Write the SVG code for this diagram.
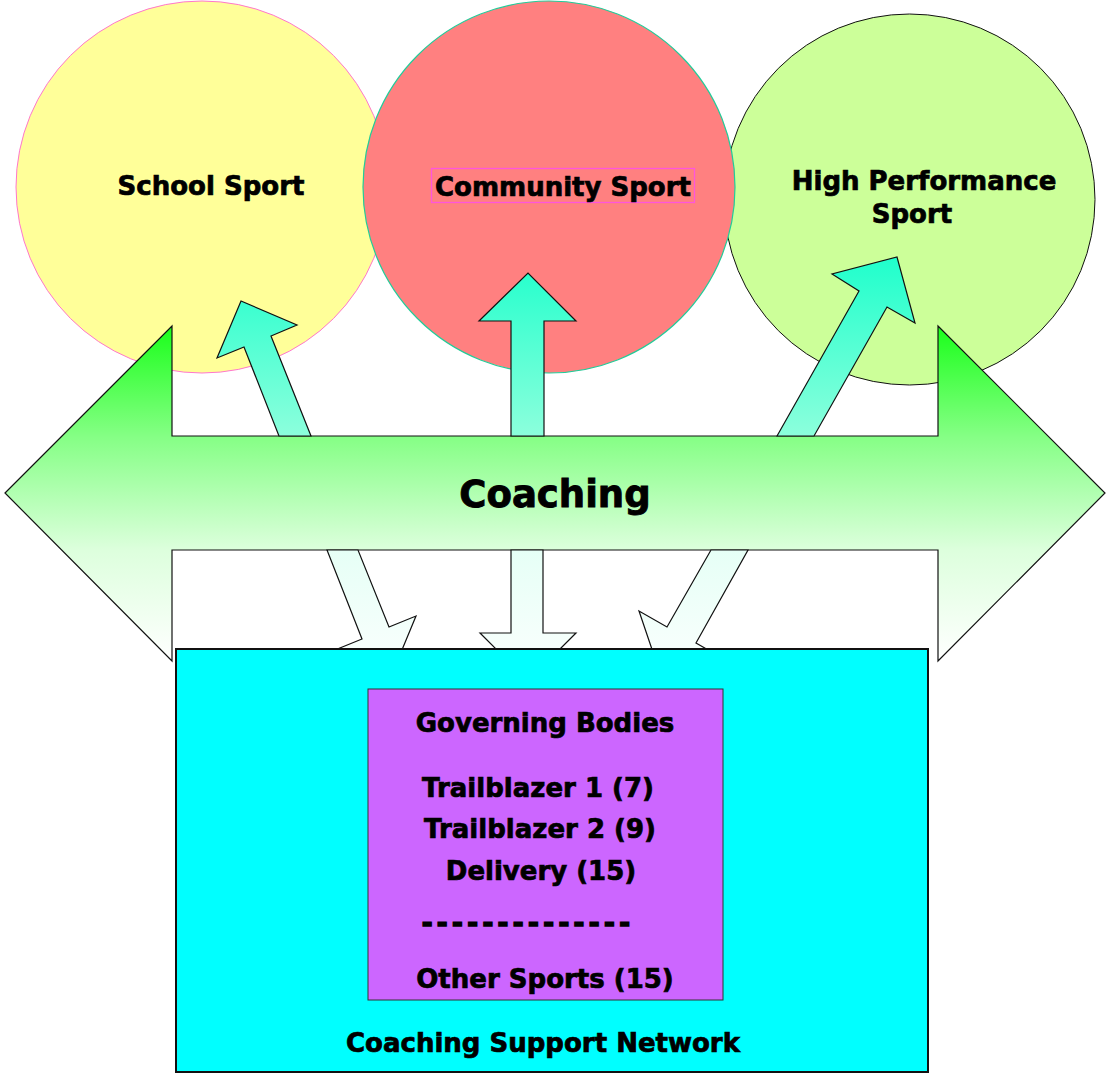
<svg xmlns="http://www.w3.org/2000/svg" width="1106" height="1074" viewBox="0 0 1106 1074">
<style>
.t{font-family:"DejaVu Sans","Noto Sans",sans-serif;font-weight:bold;font-size:26px;fill:#000;stroke:#000;stroke-width:0.7px;text-anchor:middle}
.big{font-size:37px;stroke-width:0.9px}
.ar{stroke:#111;stroke-width:1.2;stroke-linejoin:miter}
</style>
<defs>
<linearGradient id="gBig" gradientUnits="userSpaceOnUse" x1="0" y1="326" x2="0" y2="661">
<stop offset="0" stop-color="#1AFF1A"/>
<stop offset="0.33" stop-color="#85FF85"/>
<stop offset="0.67" stop-color="#DDFFDD"/>
<stop offset="1" stop-color="#FFFFFF"/>
</linearGradient>
<linearGradient id="gUp" gradientUnits="userSpaceOnUse" x1="0" y1="257" x2="0" y2="436">
<stop offset="0" stop-color="#1FFFCC"/>
<stop offset="1" stop-color="#8CFFDC"/>
</linearGradient>
<linearGradient id="gDown" gradientUnits="userSpaceOnUse" x1="0" y1="550" x2="0" y2="680">
<stop offset="0" stop-color="#E6FFF6"/>
<stop offset="1" stop-color="#FCFFFE"/>
</linearGradient>
</defs>
<g id="school-sport">
<circle cx="202" cy="187" r="186" fill="#FFFF99" stroke="#FF77CC" stroke-width="1"/>
<text class="t" x="211" y="195">School Sport</text>
</g>
<g id="high-performance-sport">
<circle cx="909.5" cy="199.5" r="185.5" fill="#CCFF99" stroke="#111" stroke-width="1"/>
<text class="t" x="924" y="190">High Performance</text>
<text class="t" x="912" y="223">Sport</text>
</g>
<g id="community-sport">
<circle cx="549" cy="187" r="186" fill="#FF8080" stroke="#22CC99" stroke-width="1.2"/>
<rect x="431.5" y="168.5" width="263" height="34" fill="none" stroke="#FF55DD" stroke-width="1.3"/>
<text class="t" x="563" y="196">Community Sport</text>
</g>
<g id="coaching">
<path class="ar" fill="url(#gBig)" d="M5,493 L172,326 L172,436 L938,436 L938,326 L1105,493 L938,661 L938,550 L172,550 L172,661 Z"/>
<text class="t big" x="555" y="507">Coaching</text>
</g>
<g id="connectors">
<polygon class="ar" fill="url(#gUp)" points="279,436 244,347 217,358 241,301 297,325 271,336 311,436"/>
<polygon class="ar" fill="url(#gUp)" points="511,436 511,321 479,321 528,273 576,321 544,321 544,436"/>
<polygon class="ar" fill="url(#gUp)" points="777,436 859,291 832,274 897,257 915,323 887,307 814,436"/>
<polygon class="ar" fill="url(#gDown)" points="327,550 362,639 335,650 392,674 416,616 389,627 358,550"/>
<polygon class="ar" fill="url(#gDown)" points="511,550 511,633 480,633 528,681 576,633 543,633 543,550"/>
<polygon class="ar" fill="url(#gDown)" points="711,550 667,627 639,611 660,673 724,659 696,643 748,550"/>
</g>
<g id="coaching-support-network">
<rect x="176" y="649" width="752" height="423" fill="#00FFFF" stroke="#111" stroke-width="2"/>
<text class="t" x="543" y="1052">Coaching Support Network</text>
</g>
<g id="governing-bodies">
<rect x="368" y="689" width="355" height="311" fill="#CC66FF" stroke="#333" stroke-width="1"/>
<text class="t" x="545" y="732">Governing Bodies</text>
<text class="t" x="538" y="797">Trailblazer 1 (7)</text>
<text class="t" x="540" y="838">Trailblazer 2 (9)</text>
<text class="t" x="541" y="880">Delivery (15)</text>
<text class="t" x="528" y="932" style="letter-spacing:4.4px;stroke-width:1.6px">--------------</text>
<text class="t" x="545" y="988">Other Sports (15)</text>
</g>
</svg>
